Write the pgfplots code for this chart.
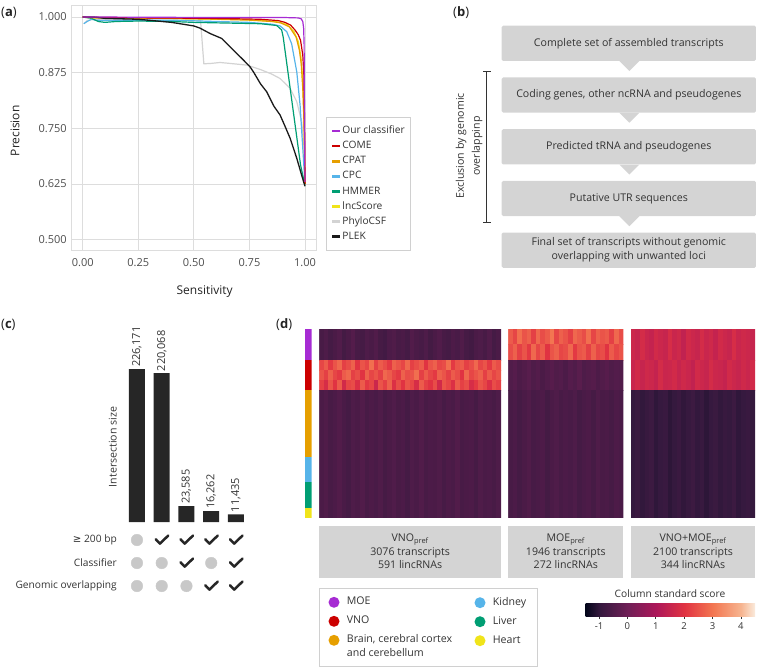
\documentclass[border=0pt]{standalone}
\usepackage{pgfplots}
\pgfplotsset{compat=1.18}
\usepackage{fontspec}
\setmainfont{Open Sans}
\newfontfamily\dejavu{DejaVu Sans}
\newcommand\fsz[2]{\fontsize{#1bp}{#2bp}\selectfont}

\definecolor{cOur}{HTML}{A62BD3}
\definecolor{cCOME}{HTML}{CC0000}
\definecolor{cCPAT}{HTML}{E69F00}
\definecolor{cCPC}{HTML}{56B4E9}
\definecolor{cHMM}{HTML}{009E73}
\definecolor{cLnc}{HTML}{F0E41A}
\definecolor{cPhy}{HTML}{D3D3D3}
\definecolor{cPLEK}{HTML}{1A1A1A}
\definecolor{boxgray}{HTML}{D4D4D4}
\definecolor{txt}{HTML}{333333}
\definecolor{tickc}{HTML}{4D4D4D}
\definecolor{titc}{HTML}{222222}
\definecolor{gridc}{HTML}{DDDDDD}
\definecolor{legc}{HTML}{D0D0D0}
\definecolor{dotgray}{HTML}{C8C8C8}
\definecolor{barc}{HTML}{262626}

\pgfplotsset{
  /pgf/number format/assume math mode=true,
  colormap={rocket}{rgb255(0cm)=(3,5,26) rgb255(1cm)=(53,25,62) rgb255(3cm)=(112,31,87) rgb255(5cm)=(173,23,89) rgb255(7cm)=(225,51,66) rgb255(9cm)=(243,118,81) rgb255(11cm)=(246,180,143) rgb255(12cm)=(250,235,221)},
  hm/.style={anchor=north west, scale only axis, height=188.4bp, ymin=0, ymax=37, y dir=reverse, hide axis, colormap name=rocket, point meta min=-1.47, point meta max=4.5},
}
\pgfdeclarehorizontalshading{rocketsh}{100bp}{rgb(0bp)=(0.012,0.020,0.102); rgb(25bp)=(0.012,0.020,0.102); rgb(29.17bp)=(0.208,0.098,0.243); rgb(37.5bp)=(0.439,0.122,0.341); rgb(45.83bp)=(0.678,0.090,0.349); rgb(54.17bp)=(0.882,0.200,0.259); rgb(62.5bp)=(0.953,0.463,0.318); rgb(70.83bp)=(0.965,0.706,0.561); rgb(75bp)=(0.980,0.922,0.867); rgb(100bp)=(0.980,0.922,0.867)}
\pgfdeclareplotmark{chk}{%
  \pgfpathmoveto{\pgfqpoint{-6bp}{0.8bp}}%
  \pgfpathlineto{\pgfqpoint{-1.8bp}{-3.6bp}}%
  \pgfpathlineto{\pgfqpoint{6.5bp}{4.4bp}}%
  \pgfusepathqstroke}

\begin{document}
\begin{tikzpicture}
\path[use as bounding box] (0bp,0bp) rectangle (758bp,-669bp);

% ---------------- panel labels
\node[anchor=west, inner sep=0pt, font=\fsz{13}{15}, text=titc] at (1bp,-13bp) {(\textbf{a})};
\node[anchor=west, inner sep=0pt, font=\fsz{13}{15}, text=titc] at (453bp,-13bp) {(\textbf{b})};
\node[anchor=west, inner sep=0pt, font=\fsz{13}{15}, text=titc] at (1bp,-325bp) {(\textbf{c})};
\node[anchor=west, inner sep=0pt, font=\fsz{13}{15}, text=titc] at (276bp,-325bp) {(\textbf{d})};

% ---------------- panel (a)
\begin{axis}[at={(71.6bp,-5.9bp)}, anchor=north west, scale only axis,
  width=244.5bp, height=245bp,
  xmin=-0.05, xmax=1.05, ymin=0.475, ymax=1.025,
  xtick={0,0.25,0.5,0.75,1}, xticklabels={0.00,0.25,0.50,0.75,1.00},
  ytick={0.5,0.625,0.75,0.875,1}, yticklabels={0.500,0.625,0.750,0.875,1.000},
  grid=major, grid style={draw=gridc, line width=0.9bp},
  axis line style={draw=gridc, line width=0.9bp},
  major tick length=0pt,
  tick label style={font=\fsz{11}{13}, text=tickc},
  xticklabel style={yshift=-4bp}, yticklabel style={xshift=-1.3bp},
  xlabel={Sensitivity}, ylabel={Precision},
  xlabel style={font=\fsz{12}{14}, text=titc, at={(rel axis cs:0.544,-0.1678)}, anchor=center},
  ylabel style={font=\fsz{12}{14}, text=titc, at={(rel axis cs:-0.2315,0.49)}, rotate=0, anchor=center},
  legend style={at={(1.0405,0.5465)}, anchor=north west, draw=legc, line width=0.7bp, fill=white,
    font=\fsz{10.2}{12}, text=txt, inner xsep=4.5bp, inner ysep=8bp, row sep=4bp,
    nodes={inner sep=0.8bp, text height=7.5bp, text depth=2bp}},
  legend cell align=left,
  legend image code/.code={\draw[line width=2.8bp] (1bp,0bp) -- (9bp,0bp);},
]
\addlegendimage{cOur}\addlegendentry{Our classifier}
\addlegendimage{cCOME}\addlegendentry{COME}
\addlegendimage{cCPAT}\addlegendentry{CPAT}
\addlegendimage{cCPC}\addlegendentry{CPC}
\addlegendimage{cHMM}\addlegendentry{HMMER}
\addlegendimage{cLnc}\addlegendentry{lncScore}
\addlegendimage{cPhy}\addlegendentry{PhyloCSF}
\addlegendimage{cPLEK}\addlegendentry{PLEK}
% PhyloCSF
\addplot[cPhy, line width=1.2bp, forget plot] coordinates {(0.005,0.985) (0.02,0.992) (0.05,0.995) (0.1,0.995) (0.2,0.994) (0.3,0.993) (0.4,0.993) (0.5,0.993) (0.53,0.993) (0.535,0.96) (0.545,0.895) (0.58,0.896) (0.618,0.898) (0.68,0.895) (0.74,0.892) (0.8,0.882) (0.85,0.872) (0.888,0.862) (0.933,0.84) (0.963,0.81) (0.985,0.765) (0.995,0.71) (1.0,0.63)};
% CPC
\addplot[cCPC, line width=1.2bp, forget plot] coordinates {(0.005,0.985) (0.02,0.99) (0.04,0.995) (0.06,0.993) (0.1,0.992) (0.2,0.993) (0.4,0.993) (0.6,0.99) (0.75,0.988) (0.85,0.984) (0.888,0.98) (0.918,0.967) (0.94,0.94) (0.963,0.877) (0.978,0.802) (0.992,0.69) (1.0,0.625)};
% HMMER
\addplot[cHMM, line width=1.2bp, forget plot] coordinates {(0,1) (0.04,0.997) (0.07,0.99) (0.1,0.988) (0.15,0.99) (0.25,0.991) (0.4,0.99) (0.5,0.988) (0.7,0.986) (0.8,0.985) (0.873,0.981) (0.895,0.971) (0.902,0.955) (0.98,0.668) (1.0,0.622)};
% lncScore
\addplot[cLnc, line width=1.2bp, forget plot] coordinates {(0,1) (0.2,0.998) (0.5,0.996) (0.75,0.994) (0.87,0.99) (0.92,0.983) (0.95,0.968) (0.97,0.945) (0.982,0.91) (0.99,0.86) (0.995,0.78) (0.998,0.7) (1.0,0.625)};
% CPAT
\addplot[cCPAT, line width=1.2bp, forget plot] coordinates {(0,1) (0.05,0.998) (0.2,0.998) (0.4,0.997) (0.6,0.995) (0.75,0.993) (0.85,0.99) (0.89,0.987) (0.93,0.978) (0.96,0.955) (0.975,0.925) (0.983,0.895) (0.99,0.84) (0.995,0.77) (0.998,0.69) (1.0,0.625)};
% COME
\addplot[cCOME, line width=1.2bp, forget plot] coordinates {(0,1) (0.1,0.999) (0.3,0.998) (0.6,0.997) (0.8,0.995) (0.88,0.992) (0.91,0.988) (0.935,0.982) (0.955,0.971) (0.97,0.96) (0.98,0.948) (0.99,0.915) (0.995,0.87) (0.997,0.8) (0.999,0.72) (1.0,0.625)};
% PLEK
\addplot[cPLEK, line width=1.3bp, forget plot] coordinates {(0,1) (0.05,1) (0.1,0.997) (0.25,0.995) (0.4,0.988) (0.5,0.98) (0.528,0.975) (0.573,0.963) (0.625,0.952) (0.685,0.922) (0.72,0.905) (0.753,0.888) (0.768,0.877) (0.8,0.85) (0.828,0.832) (0.86,0.8) (0.888,0.78) (0.91,0.755) (0.933,0.728) (0.963,0.683) (0.985,0.645) (1.0,0.62)};
% Our classifier
\addplot[cOur, line width=1.2bp, forget plot] coordinates {(0,1) (0.1,1) (0.3,0.9995) (0.6,0.999) (0.9,0.999) (0.97,0.998) (0.983,0.996) (0.99,0.99) (0.994,0.975) (0.996,0.94) (0.997,0.85) (0.998,0.75) (1.0,0.63)};
\end{axis}

% ---------------- panel (b) flowchart
\begin{scope}[every node/.style={fill=boxgray, rounded corners=1.5bp, minimum width=254.3bp, minimum height=35.3bp, inner sep=0pt, align=center, font=\fsz{10.6}{14}, text=txt}]
\node at (628.8bp,-43.3bp) {Complete set of assembled transcripts};
\node at (628.8bp,-95bp) {Coding genes, other ncRNA and pseudogenes};
\node at (628.8bp,-146.8bp) {Predicted tRNA and pseudogenes};
\node at (628.8bp,-198.5bp) {Putative UTR sequences};
\node at (628.8bp,-250.2bp) {Final set of transcripts without genomic\\overlapping with unwanted loci};
\end{scope}
\foreach \yb in {61,112.7,164.5,216.2}{
  \fill[boxgray] (619.3bp,-\yb bp) -- (639.3bp,-\yb bp) -- (629.3bp,-\yb bp-10bp) -- cycle;
}
\draw[txt, line width=0.9bp] (486.7bp,-71bp) -- (486.7bp,-222.7bp);
\draw[txt, line width=0.9bp] (483bp,-71bp) -- (490.5bp,-71bp);
\draw[txt, line width=0.9bp] (483bp,-222.7bp) -- (490.5bp,-222.7bp);
\node[rotate=90, align=center, font=\fsz{10.6}{16}, text=txt] at (469bp,-146bp) {Exclusion by genomic\\overlappinp};

% ---------------- panel (c)
\begin{axis}[at={(124.6bp,-522bp)}, anchor=south west, scale only axis,
  width=123.75bp, height=175.8bp, xmin=-0.5, xmax=4.5, ymin=0, ymax=260000,
  axis line style={draw=none}, xtick=\empty, ytick=\empty, clip=false,
  ylabel={Intersection size},
  ylabel style={font=\fsz{10.6}{13}, text=txt, at={(rel axis cs:-0.096,0.427)}, rotate=0, anchor=center}]
\addplot[ybar, bar width=16bp, fill=barc, draw=none, nodes near coords,
  every node near coord/.append style={rotate=90, anchor=west, font=\fsz{11}{13}, text=txt, inner sep=2bp},
  /pgf/number format/.cd, fixed, precision=0, 1000 sep={,}]
  coordinates {(0,226171) (1,220068) (2,23585) (3,16262) (4,11435)};
\end{axis}
\begin{axis}[at={(124.6bp,-528.5bp)}, anchor=north west, scale only axis,
  width=123.75bp, height=69bp, xmin=-0.5, xmax=4.5, ymin=-0.5, ymax=2.5, y dir=reverse,
  axis line style={draw=none}, xtick=\empty, ytick={0,1,2}, major tick length=0pt,
  yticklabels={{{\dejavu ≥} 200 bp},{Classifier},{Genomic overlapping}},
  yticklabel style={font=\fsz{10.2}{12}, text=txt, xshift=-4.3bp}, clip=false]
\addplot[only marks, mark=*, mark size=5.8bp, color=dotgray] coordinates {(0,0) (0,1) (0,2) (1,1) (1,2) (2,2) (3,1)};
\addplot[only marks, mark=chk, color=barc, mark options={line width=2.5bp, line cap=round, line join=round}] coordinates {(1,0) (2,0) (3,0) (4,0) (2,1) (4,1) (3,2) (4,2)};
\end{axis}

% ---------------- panel (d) tissue strip
\begin{axis}[at={(305bp,-329.3bp)}, anchor=north west, scale only axis, width=6.7bp, height=188.4bp,
  xmin=0, xmax=1, ymin=0, ymax=37, y dir=reverse, hide axis]
\addplot[fill=cOur, draw=none] coordinates {(0,0) (1,0) (1,6) (0,6)} -- cycle;
\addplot[fill=cCOME, draw=none] coordinates {(0,6) (1,6) (1,12) (0,12)} -- cycle;
\addplot[fill=cCPAT, draw=none] coordinates {(0,12) (1,12) (1,25) (0,25)} -- cycle;
\addplot[fill=cCPC, draw=none] coordinates {(0,25) (1,25) (1,30) (0,30)} -- cycle;
\addplot[fill=cHMM, draw=none] coordinates {(0,30) (1,30) (1,35) (0,35)} -- cycle;
\addplot[fill=cLnc, draw=none] coordinates {(0,35) (1,35) (1,37) (0,37)} -- cycle;
\end{axis}

% heatmap 1: VNO pref
\begin{axis}[hm, at={(319.3bp,-329.3bp)}, width=181.7bp, xmin=0, xmax=40]
\addplot[surf, shader=flat corner, mesh/rows=6, mesh/cols=41, point meta=explicit] table[row sep=\\, meta=c] {
x y c\\
0 0 -0.65\\1 0 -0.55\\2 0 -0.7\\3 0 -0.6\\4 0 -0.5\\5 0 -0.72\\6 0 -0.6\\7 0 -0.45\\8 0 -0.65\\9 0 -0.7\\10 0 -0.55\\11 0 -0.62\\12 0 -0.5\\13 0 -0.68\\14 0 -0.75\\15 0 -0.58\\16 0 -0.52\\17 0 -0.65\\18 0 -0.6\\19 0 -0.7\\20 0 -0.48\\21 0 -0.6\\22 0 -0.67\\23 0 -0.55\\24 0 -0.72\\25 0 -0.6\\26 0 -0.5\\27 0 -0.65\\28 0 -0.7\\29 0 -0.57\\30 0 -0.63\\31 0 -0.52\\32 0 -0.68\\33 0 -0.76\\34 0 -0.6\\35 0 -0.55\\36 0 -0.65\\37 0 -0.5\\38 0 -0.7\\39 0 -0.6\\40 0 -0.6\\
0 6 2.3\\1 6 2.6\\2 6 2.1\\3 6 2.5\\4 6 2.8\\5 6 2.2\\6 6 2.4\\7 6 2.7\\8 6 2.0\\9 6 2.5\\10 6 2.3\\11 6 2.9\\12 6 2.2\\13 6 2.6\\14 6 2.4\\15 6 2.1\\16 6 2.7\\17 6 2.5\\18 6 2.3\\19 6 2.8\\20 6 2.2\\21 6 2.4\\22 6 2.6\\23 6 2.0\\24 6 2.5\\25 6 2.7\\26 6 2.3\\27 6 2.4\\28 6 2.9\\29 6 2.1\\30 6 2.5\\31 6 2.6\\32 6 2.2\\33 6 2.4\\34 6 2.8\\35 6 2.3\\36 6 2.5\\37 6 2.1\\38 6 2.6\\39 6 2.4\\40 6 2.4\\
0 8 2.5\\1 8 2.2\\2 8 2.7\\3 8 2.3\\4 8 2.1\\5 8 2.6\\6 8 2.8\\7 8 2.2\\8 8 2.4\\9 8 2.0\\10 8 2.7\\11 8 2.3\\12 8 2.5\\13 8 2.2\\14 8 2.8\\15 8 2.6\\16 8 2.3\\17 8 2.1\\18 8 2.7\\19 8 2.4\\20 8 2.5\\21 8 2.9\\22 8 2.2\\23 8 2.6\\24 8 2.3\\25 8 2.1\\26 8 2.7\\27 8 2.5\\28 8 2.2\\29 8 2.6\\30 8 2.4\\31 8 2.0\\32 8 2.8\\33 8 2.3\\34 8 2.5\\35 8 2.7\\36 8 2.2\\37 8 2.6\\38 8 2.3\\39 8 2.5\\40 8 2.5\\
0 10 2.2\\1 10 1.8\\2 10 2.5\\3 10 2.0\\4 10 2.6\\5 10 1.7\\6 10 2.3\\7 10 2.4\\8 10 1.9\\9 10 2.6\\10 10 2.1\\11 10 2.3\\12 10 1.6\\13 10 2.5\\14 10 2.2\\15 10 2.7\\16 10 1.9\\17 10 2.4\\18 10 2.0\\19 10 2.5\\20 10 2.3\\21 10 1.8\\22 10 2.6\\23 10 2.2\\24 10 2.0\\25 10 2.4\\26 10 1.7\\27 10 2.5\\28 10 2.3\\29 10 1.9\\30 10 2.6\\31 10 2.2\\32 10 2.4\\33 10 1.8\\34 10 2.1\\35 10 2.5\\36 10 2.3\\37 10 1.9\\38 10 2.4\\39 10 2.2\\40 10 2.2\\
0 12 -0.6\\1 12 -0.52\\2 12 -0.65\\3 12 -0.58\\4 12 -0.48\\5 12 -0.62\\6 12 -0.7\\7 12 -0.55\\8 12 -0.6\\9 12 -0.5\\10 12 -0.66\\11 12 -0.57\\12 12 -0.63\\13 12 -0.54\\14 12 -0.68\\15 12 -0.6\\16 12 -0.51\\17 12 -0.64\\18 12 -0.59\\19 12 -0.7\\20 12 -0.55\\21 12 -0.62\\22 12 -0.5\\23 12 -0.65\\24 12 -0.58\\25 12 -0.6\\26 12 -0.53\\27 12 -0.67\\28 12 -0.56\\29 12 -0.62\\30 12 -0.49\\31 12 -0.65\\32 12 -0.6\\33 12 -0.57\\34 12 -0.68\\35 12 -0.54\\36 12 -0.62\\37 12 -0.59\\38 12 -0.66\\39 12 -0.55\\40 12 -0.55\\
0 37 -0.6\\1 37 -0.52\\2 37 -0.65\\3 37 -0.58\\4 37 -0.48\\5 37 -0.62\\6 37 -0.7\\7 37 -0.55\\8 37 -0.6\\9 37 -0.5\\10 37 -0.66\\11 37 -0.57\\12 37 -0.63\\13 37 -0.54\\14 37 -0.68\\15 37 -0.6\\16 37 -0.51\\17 37 -0.64\\18 37 -0.59\\19 37 -0.7\\20 37 -0.55\\21 37 -0.62\\22 37 -0.5\\23 37 -0.65\\24 37 -0.58\\25 37 -0.6\\26 37 -0.53\\27 37 -0.67\\28 37 -0.56\\29 37 -0.62\\30 37 -0.49\\31 37 -0.65\\32 37 -0.6\\33 37 -0.57\\34 37 -0.68\\35 37 -0.54\\36 37 -0.62\\37 37 -0.59\\38 37 -0.66\\39 37 -0.55\\40 37 -0.55\\
};
\end{axis}

% heatmap 2: MOE pref
\begin{axis}[hm, at={(508.3bp,-329.3bp)}, width=115bp, xmin=0, xmax=25]
\addplot[surf, shader=flat corner, mesh/rows=5, mesh/cols=26, point meta=explicit] table[row sep=\\, meta=c] {
x y c\\
0 0 2.6\\1 0 2.3\\2 0 2.9\\3 0 2.5\\4 0 2.7\\5 0 2.2\\6 0 2.8\\7 0 2.4\\8 0 2.6\\9 0 3.0\\10 0 2.3\\11 0 2.7\\12 0 2.5\\13 0 2.2\\14 0 2.8\\15 0 2.6\\16 0 2.4\\17 0 2.9\\18 0 2.3\\19 0 2.7\\20 0 2.5\\21 0 2.6\\22 0 2.2\\23 0 2.8\\24 0 2.4\\25 0 2.4\\
0 3 2.4\\1 3 2.7\\2 3 2.2\\3 3 2.5\\4 3 2.1\\5 3 2.8\\6 3 2.3\\7 3 2.6\\8 3 2.0\\9 3 2.5\\10 3 2.7\\11 3 2.3\\12 3 2.4\\13 3 2.8\\14 3 2.1\\15 3 2.5\\16 3 2.6\\17 3 2.2\\18 3 2.7\\19 3 2.3\\20 3 2.4\\21 3 2.0\\22 3 2.6\\23 3 2.3\\24 3 2.5\\25 3 2.5\\
0 6 -0.5\\1 6 -0.42\\2 6 -0.56\\3 6 -0.48\\4 6 -0.38\\5 6 -0.54\\6 6 -0.45\\7 6 -0.6\\8 6 -0.5\\9 6 -0.4\\10 6 -0.52\\11 6 -0.46\\12 6 -0.58\\13 6 -0.43\\14 6 -0.51\\15 6 -0.37\\16 6 -0.55\\17 6 -0.48\\18 6 -0.44\\19 6 -0.57\\20 6 -0.49\\21 6 -0.4\\22 6 -0.53\\23 6 -0.47\\24 6 -0.5\\25 6 -0.5\\
0 12 -0.65\\1 12 -0.58\\2 12 -0.7\\3 12 -0.6\\4 12 -0.52\\5 12 -0.67\\6 12 -0.62\\7 12 -0.56\\8 12 -0.72\\9 12 -0.6\\10 12 -0.54\\11 12 -0.66\\12 12 -0.59\\13 12 -0.63\\14 12 -0.55\\15 12 -0.7\\16 12 -0.61\\17 12 -0.57\\18 12 -0.68\\19 12 -0.53\\20 12 -0.64\\21 12 -0.6\\22 12 -0.69\\23 12 -0.56\\24 12 -0.62\\25 12 -0.62\\
0 37 -0.65\\1 37 -0.58\\2 37 -0.7\\3 37 -0.6\\4 37 -0.52\\5 37 -0.67\\6 37 -0.62\\7 37 -0.56\\8 37 -0.72\\9 37 -0.6\\10 37 -0.54\\11 37 -0.66\\12 37 -0.59\\13 37 -0.63\\14 37 -0.55\\15 37 -0.7\\16 37 -0.61\\17 37 -0.57\\18 37 -0.68\\19 37 -0.53\\20 37 -0.64\\21 37 -0.6\\22 37 -0.69\\23 37 -0.56\\24 37 -0.62\\25 37 -0.62\\
};
\end{axis}

% heatmap 3: VNO+MOE pref
\begin{axis}[hm, at={(631bp,-329.3bp)}, width=124bp, xmin=0, xmax=27]
\addplot[surf, shader=flat corner, mesh/rows=4, mesh/cols=28, point meta=explicit] table[row sep=\\, meta=c] {
x y c\\
0 0 1.6\\1 0 1.5\\2 0 1.75\\3 0 1.55\\4 0 1.45\\5 0 1.7\\6 0 1.6\\7 0 1.5\\8 0 1.8\\9 0 1.55\\10 0 1.65\\11 0 1.4\\12 0 1.7\\13 0 1.6\\14 0 1.5\\15 0 1.75\\16 0 1.55\\17 0 1.65\\18 0 1.45\\19 0 1.7\\20 0 1.6\\21 0 1.5\\22 0 1.8\\23 0 1.55\\24 0 1.65\\25 0 1.6\\26 0 1.5\\27 0 1.5\\
0 6 1.55\\1 6 1.7\\2 6 1.5\\3 6 1.65\\4 6 1.6\\5 6 1.45\\6 6 1.75\\7 6 1.55\\8 6 1.6\\9 6 1.7\\10 6 1.5\\11 6 1.65\\12 6 1.55\\13 6 1.4\\14 6 1.7\\15 6 1.6\\16 6 1.5\\17 6 1.75\\18 6 1.6\\19 6 1.55\\20 6 1.45\\21 6 1.7\\22 6 1.6\\23 6 1.5\\24 6 1.65\\25 6 1.55\\26 6 1.7\\27 6 1.7\\
0 12 -0.95\\1 12 -0.87\\2 12 -1.0\\3 12 -0.93\\4 12 -0.85\\5 12 -1.03\\6 12 -0.95\\7 12 -0.9\\8 12 -1.05\\9 12 -0.97\\10 12 -0.89\\11 12 -1.01\\12 12 -0.94\\13 12 -0.85\\14 12 -0.99\\15 12 -0.92\\16 12 -1.05\\17 12 -0.95\\18 12 -0.88\\19 12 -1.0\\20 12 -0.93\\21 12 -0.97\\22 12 -0.86\\23 12 -1.02\\24 12 -0.95\\25 12 -0.91\\26 12 -0.98\\27 12 -0.98\\
0 37 -0.95\\1 37 -0.87\\2 37 -1.0\\3 37 -0.93\\4 37 -0.85\\5 37 -1.03\\6 37 -0.95\\7 37 -0.9\\8 37 -1.05\\9 37 -0.97\\10 37 -0.89\\11 37 -1.01\\12 37 -0.94\\13 37 -0.85\\14 37 -0.99\\15 37 -0.92\\16 37 -1.05\\17 37 -0.95\\18 37 -0.88\\19 37 -1.0\\20 37 -0.93\\21 37 -0.97\\22 37 -0.86\\23 37 -1.02\\24 37 -0.95\\25 37 -0.91\\26 37 -0.98\\27 37 -0.98\\
};
\end{axis}

% label boxes under heatmaps
\begin{scope}[every node/.style={fill=boxgray, minimum height=52bp, inner sep=0pt, align=center, font=\fsz{10.6}{13.5}, text=txt}]
\node[minimum width=181.7bp] at (410.15bp,-551.7bp) {VNO\textsubscript{pref}\\3076 transcripts\\591 lincRNAs};
\node[minimum width=115bp] at (565.8bp,-551.7bp) {MOE\textsubscript{pref}\\1946 transcripts\\272 lincRNAs};
\node[minimum width=124bp] at (693bp,-551.7bp) {VNO+MOE\textsubscript{pref}\\2100 transcripts\\344 lincRNAs};
\end{scope}

% tissue legend
\draw[draw=legc, fill=white, line width=0.7bp] (319.3bp,-588.3bp) rectangle (537.7bp,-666bp);
\begin{scope}[every node/.style={anchor=mid west, inner sep=0pt, font=\fsz{10.6}{13}, text=txt}]
\fill[cOur] (334bp,-602.3bp) circle (5.5bp);  \node at (346.7bp,-602.3bp) {MOE};
\fill[cCOME] (334bp,-621.3bp) circle (5.5bp); \node at (346.7bp,-621.3bp) {VNO};
\fill[cCPAT] (334bp,-640.3bp) circle (5.5bp); \node at (346.7bp,-640.3bp) {Brain, cerebral cortex};
\node at (346.7bp,-654bp) {and cerebellum};
\fill[cCPC] (480bp,-602.7bp) circle (5.5bp);  \node at (492.7bp,-602.7bp) {Kidney};
\fill[cHMM] (480bp,-621.7bp) circle (5.5bp);  \node at (492.7bp,-621.7bp) {Liver};
\fill[cLnc] (480bp,-640.7bp) circle (5.5bp);  \node at (492.7bp,-640.7bp) {Heart};
\end{scope}

% colour bar
\node[font=\fsz{10.2}{12}, text=txt] at (670bp,-593.3bp) {Column standard score};
\begin{axis}[at={(585.7bp,-603.3bp)}, anchor=north west, scale only axis, width=169.3bp, height=12.7bp,
  xmin=-1.47, xmax=4.5, ymin=0, ymax=1, axis line style={draw=none}, ytick=\empty,
  xtick={-1,0,1,2,3,4}, xticklabels={-1,0,1,2,3,4}, tick align=outside, xtick pos=lower,
  major tick length=3bp, tick style={draw=txt, line width=0.6bp},
  tick label style={font=\fsz{9.5}{11}, text=txt}]
\addplot[draw=none] coordinates {(0,0.5)};
\shade[shading=rocketsh] (rel axis cs:0,0) rectangle (rel axis cs:1,1);
\end{axis}

\end{tikzpicture}
\end{document}
